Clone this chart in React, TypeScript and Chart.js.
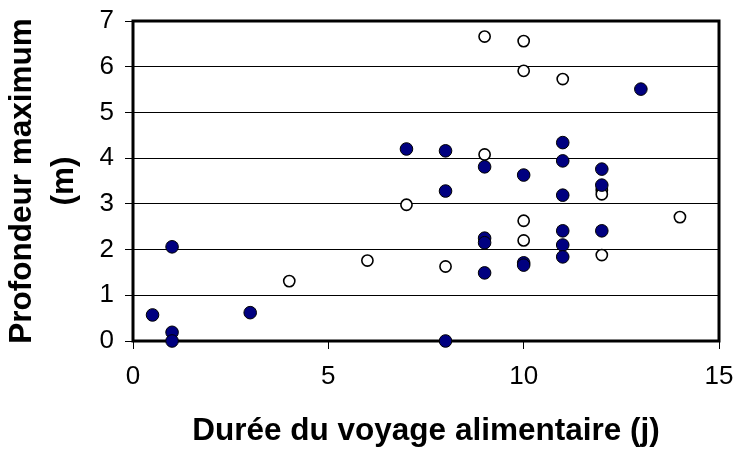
import React, { useEffect, useRef } from "react";
import { Chart, registerables } from "chart.js";

Chart.register(...registerables);

// Durée du voyage alimentaire (j) / Profondeur maximum (m)
const filledX = [0.5, 1, 1, 1, 3, 7, 8, 8, 8, 9, 9, 9, 9, 10, 10, 10, 11, 11, 11, 11, 11, 11, 12, 12, 12, 13];
const filledY = [0.57, 2.06, 0.19, 0, 0.62, 4.2, 4.16, 3.28, 0, 3.81, 2.25, 2.15, 1.49, 3.63, 1.71, 1.66, 4.34, 3.94, 3.19, 2.41, 2.1, 1.84, 3.76, 3.41, 2.41, 5.51];

const openX = [4, 6, 7, 8, 9, 9, 10, 10, 10, 10, 11, 12, 12, 12, 14];
const openY = [1.31, 1.76, 2.98, 1.63, 6.66, 4.08, 6.56, 5.91, 2.63, 2.2, 5.73, 3.3, 3.21, 1.88, 2.71];

const xTicks = [0, 5, 10, 15];
const yTicks = [0, 1, 2, 3, 4, 5, 6, 7];

const xTitle = "Durée du voyage alimentaire (j)";
const yTitle = ["Profondeur maximum", "(m)"];

const FONT = "'Liberation Sans', Arial, sans-serif";

const frame = {
  id: "frame",
  beforeDatasetsDraw(chart: any) {
    const { ctx, chartArea: a } = chart;
    ctx.save();
    ctx.strokeStyle = "#000";
    ctx.lineWidth = 3;
    ctx.strokeRect(a.left, a.top, a.right - a.left, a.bottom - a.top);
    ctx.restore();
  },
};

function zeroPad(s: any) {
  s.paddingLeft = 0;
  s.paddingRight = 0;
  s.paddingTop = 0;
  s.paddingBottom = 0;
}

export default function App() {
  const ref = useRef<HTMLCanvasElement>(null);
  useEffect(() => {
    document.body.style.margin = "0";
    const filled = filledX.map((x, i) => ({ x, y: filledY[i] }));
    const open = openX.map((x, i) => ({ x, y: openY[i] }));
    const chart = new Chart(ref.current!, {
      type: "scatter",
      data: {
        datasets: [
          {
            data: filled,
            backgroundColor: "#000080",
            borderColor: "#000",
            borderWidth: 1,
            pointRadius: 6.3,
            clip: false as any,
          },
          {
            data: open,
            backgroundColor: "#fff",
            borderColor: "#000",
            borderWidth: 1.6,
            pointRadius: 5.6,
            clip: false as any,
          },
        ],
      },
      options: {
        animation: false,
        responsive: false,
        layout: { padding: { top: 21, right: 17, left: 0, bottom: 0 } },
        plugins: { legend: { display: false }, tooltip: { enabled: false } },
        scales: {
          x: {
            type: "linear",
            min: 0,
            max: 15,
            afterFit(s: any) {
              s.height = 109;
              zeroPad(s);
            },
            afterBuildTicks(s: any) {
              s.ticks = xTicks.map((v) => ({ value: v }));
            },
            border: { display: false },
            grid: { drawOnChartArea: false, drawTicks: true, tickLength: 8, color: "#000", lineWidth: 1 },
            ticks: { color: "#000", padding: 12, font: { family: FONT, size: 26 } },
            title: {
              display: true,
              text: xTitle,
              color: "#000",
              padding: { top: 0, bottom: 0 },
              font: { family: FONT, size: 31.5, weight: "bold", lineHeight: 1.2 },
            },
          },
          y: {
            type: "linear",
            min: 0,
            max: 7,
            afterFit(s: any) {
              s.width = 133;
              zeroPad(s);
            },
            afterBuildTicks(s: any) {
              s.ticks = yTicks.map((v) => ({ value: v }));
            },
            border: { display: false },
            grid: { drawTicks: true, tickLength: 8, color: "#000", lineWidth: 1 },
            ticks: { color: "#000", padding: 11, font: { family: FONT, size: 26 } },
            title: {
              display: true,
              text: yTitle,
              color: "#000",
              padding: { top: 1, bottom: 0 },
              font: { family: FONT, size: 31.5, weight: "bold", lineHeight: 1.33 },
            },
          },
        },
      },
      plugins: [frame],
    });
    return () => chart.destroy();
  }, []);
  return <canvas ref={ref} width={736} height={450} style={{ display: "block" }} />;
}
